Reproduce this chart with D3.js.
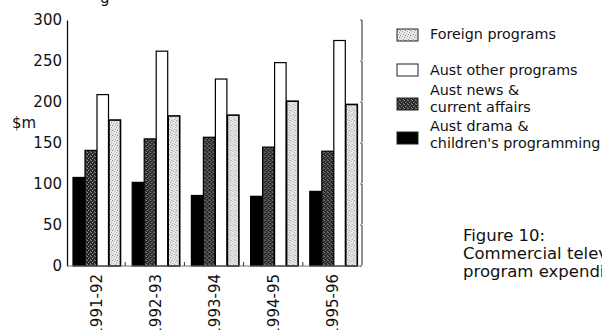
<!DOCTYPE html>
<html lang="en">
<head>
<meta charset="UTF-8">
<title>Commercial television program expenditure</title>
<script src="https://d3js.org/d3.v7.min.js"></script>
<style>
  body { margin: 0; background: #fff; }
  svg text { font-family: "DejaVu Sans", "Open Sans", sans-serif; fill: #111; }
</style>
</head>
<body>
<div id="chart"></div>
<script>
// data ($m)
const years = ["1991-92", "1992-93", "1993-94", "1994-95", "1995-96"];
const drama = [108, 102, 86, 85, 91];
const news = [141, 155, 157, 145, 140];
const other = [209, 262, 228, 248, 275];
const foreign = [178, 183, 184, 201, 197];
const yTicks = [0, 50, 100, 150, 200, 250, 300];

const series = [
  {key: "drama", values: drama, fill: "#000"},
  {key: "news", values: news, fill: "url(#hatch)"},
  {key: "other", values: other, fill: "#fff"},
  {key: "foreign", values: foreign, fill: "url(#stipple)"}
];

const W = 602, H = 330;
const svg = d3.select("#chart").append("svg").attr("width", W).attr("height", H);

// fill patterns (scanned screen look)
const defs = svg.append("defs");
function dotPattern(id, size, base, dots) {
  const p = defs.append("pattern").attr("id", id)
    .attr("patternUnits", "userSpaceOnUse").attr("width", size).attr("height", size);
  p.append("rect").attr("width", size).attr("height", size).attr("fill", base);
  dots.forEach(d => p.append("rect").attr("x", d[0]).attr("y", d[1])
    .attr("width", 1).attr("height", 1).attr("fill", d[2]));
}
dotPattern("hatch", 4, "#262626", [
  [0, 0, "#8a8a8a"], [2, 1, "#6e6e6e"], [1, 2, "#9a9a9a"], [3, 3, "#777"], [3, 0, "#555"]
]);
dotPattern("stipple", 5, "#e6e6e6", [
  [0, 0, "#8c8c8c"], [2, 1, "#b0b0b0"], [4, 2, "#999"], [1, 3, "#c4c4c4"], [3, 4, "#a0a0a0"], [3, 2, "#fff"]
]);

const x0 = d3.scaleBand().domain(years).range([67, 363]).paddingInner(0);
const x1 = d3.scaleBand().domain(series.map(s => s.key)).range([6, 54]).padding(0);
const y = d3.scaleLinear().domain([0, 300]).range([266, 20]);

// clipped title above the chart (only the descender shows)
svg.append("text").attr("x", 100).attr("y", 3).attr("font-size", 15).text("g");

// bars
years.forEach((yr, i) => {
  const g = svg.append("g").attr("transform", `translate(${x0(yr)},0)`);
  g.selectAll("rect").data(series).join("rect")
    .attr("x", s => x1(s.key))
    .attr("y", s => y(s.values[i]))
    .attr("width", x1.bandwidth() - 0.5)
    .attr("height", s => y(0) - y(s.values[i]))
    .attr("fill", s => s.fill)
    .attr("stroke", "#000")
    .attr("stroke-width", s => s.key === "foreign" ? 1.6 : 1.2);
});

// left axis
const yAxis = svg.append("g").attr("transform", "translate(67,0)")
  .call(d3.axisLeft(y).tickValues(yTicks).tickSize(0).tickPadding(5));
yAxis.select(".domain").attr("stroke", "#111").attr("stroke-width", 1.3);
yAxis.selectAll("text").attr("font-size", 15).attr("font-family", "DejaVu Sans, sans-serif").attr("fill", "#111");

svg.append("text").attr("x", 12).attr("y", 128).attr("font-size", 15).text("$m");

// right axis, nearly solid, with tiny ticks
svg.append("line").attr("x1", 362).attr("x2", 362).attr("y1", y(300)).attr("y2", y(0))
  .attr("stroke", "#222").attr("stroke-width", 1).attr("stroke-dasharray", "40,1");
svg.selectAll(".rtick").data(yTicks).join("line").attr("class", "rtick")
  .attr("x1", 360).attr("x2", 362).attr("y1", d => y(d)).attr("y2", d => y(d))
  .attr("stroke", "#666");

// baseline and small group separators
svg.append("line").attr("x1", 67).attr("x2", 362).attr("y1", y(0)).attr("y2", y(0))
  .attr("stroke", "#777").attr("stroke-width", 1);
svg.selectAll(".sep").data(years.slice(1)).join("line").attr("class", "sep")
  .attr("x1", d => x0(d) - 1).attr("x2", d => x0(d) - 1)
  .attr("y1", y(0) - 4).attr("y2", y(0))
  .attr("stroke", "#333");

// year labels, rotated
svg.selectAll(".xl").data(years).join("text").attr("class", "xl")
  .attr("transform", d => `translate(${x0(d) + x0.bandwidth() / 2 + 5},274) rotate(-90)`)
  .attr("text-anchor", "end").attr("font-size", 15).text(d => d);

// legend
const legend = [
  {fill: "url(#stipple)", lines: ["Foreign programs"], sy: 29, ty: [39]},
  {fill: "#fff", lines: ["Aust  other programs"], sy: 64, ty: [75]},
  {fill: "url(#hatch)", lines: ["Aust  news &", "current affairs"], sy: 98, ty: [95, 112]},
  {fill: "#000", lines: ["Aust  drama &", "children's programming"], sy: 132, ty: [131, 148]}
];
legend.forEach(l => {
  svg.append("rect").attr("x", 397).attr("y", l.sy).attr("width", 21).attr("height", 12)
    .attr("fill", l.fill).attr("stroke", "#222").attr("stroke-width", 1);
  l.lines.forEach((t, k) => {
    svg.append("text").attr("x", 430).attr("y", l.ty[k]).attr("font-size", 14.3).text(t);
  });
});

// caption, cut off at the right edge as in the source
const caption = ["Figure 10:", "Commercial television", "program expenditure"];
caption.forEach((t, k) => {
  svg.append("text").attr("x", 463).attr("y", 241 + k * 18).attr("font-size", 16.5).text(t);
});
</script>
</body>
</html>
